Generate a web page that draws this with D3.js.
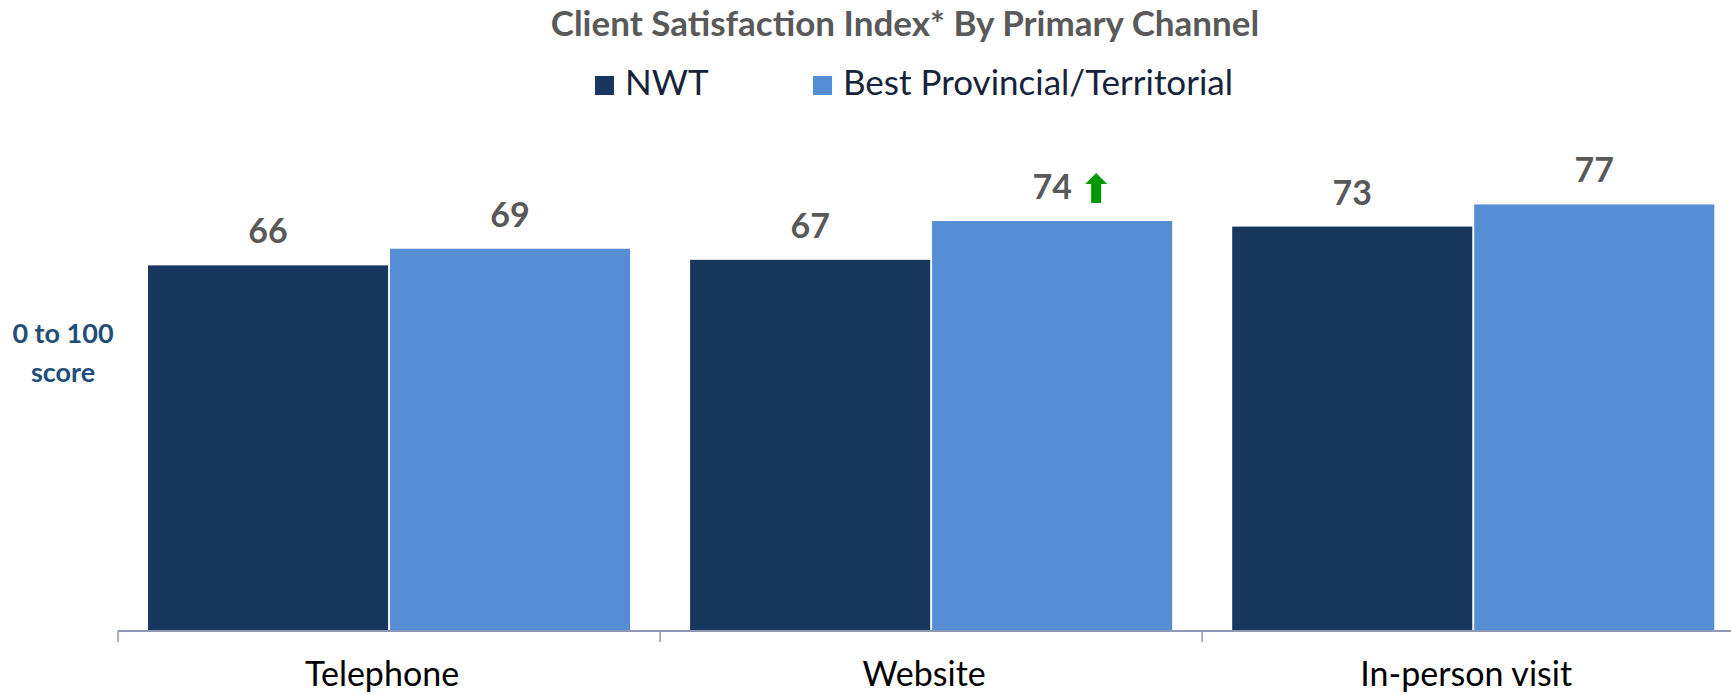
<!DOCTYPE html>
<html>
<head>
<meta charset="utf-8">
<script src="https://cdnjs.cloudflare.com/ajax/libs/d3/7.8.5/d3.min.js"></script>
<style>
  html, body { margin: 0; padding: 0; background: #fff; }
  svg { display: block; overflow: hidden; }
  text { font-family: Lato, "Open Sans", sans-serif; }
</style>
</head>
<body>
<div id="chart"></div>
<script>
(function() {
  var categories = ["Telephone", "Website", "In-person visit"];
  var seriesNames = ["NWT", "Best Provincial/Territorial"];
  var nwtValues = [66, 67, 73];
  var bestValues = [69, 74, 77];
  // arrow flags: significant increase marker next to a value
  var bestArrows = [false, true, false];
  var colors = ["#17375E", "#558ED5"];

  var width = 1731, height = 695;
  var options = {
    margin: { top: 77, left: 118, bottom: 64 },
    band: 542.1,
    groupPad: 30
  };
  var axisY = height - options.margin.bottom;

  var svg = d3.select("#chart").append("svg")
    .attr("width", width)
    .attr("height", height);

  var x = d3.scaleBand()
    .domain(categories)
    .range([options.margin.left, options.margin.left + options.band * categories.length]);

  var xs = d3.scaleBand()
    .domain(seriesNames)
    .range([options.groupPad, options.band - options.groupPad])
    .paddingInner(0.008);

  var y = d3.scaleLinear()
    .domain([0, 100])
    .range([axisY, options.margin.top]);

  var rows = categories.map(function(c, i) {
    return [
      { cat: c, name: seriesNames[0], value: nwtValues[i], arrow: false },
      { cat: c, name: seriesNames[1], value: bestValues[i], arrow: bestArrows[i] }
    ];
  });

  // title
  svg.append("text")
    .attr("x", 905).attr("y", 36)
    .attr("text-anchor", "middle")
    .style("font-size", "35px").style("font-weight", 700)
    .style("fill", "#595959")
    .text("Client Satisfaction Index* By Primary Channel");

  // legend
  var legendX = [595, 813];
  var legend = svg.selectAll("g.legend").data(seriesNames).enter().append("g")
    .attr("class", "legend")
    .attr("transform", function(d, i) { return "translate(" + legendX[i] + ",76)"; });
  legend.append("rect")
    .attr("width", 19).attr("height", 19)
    .attr("fill", function(d, i) { return colors[i]; });
  legend.append("text")
    .attr("x", 30).attr("y", 19)
    .style("font-size", "35px").style("fill", "#16233a")
    .text(function(d) { return d; });

  // y label
  var ylab = svg.append("text")
    .attr("text-anchor", "middle")
    .style("font-size", "27px").style("font-weight", 700)
    .style("fill", "#1F4E79");
  ylab.append("tspan").attr("x", 63).attr("y", 343).text("0 to 100");
  ylab.append("tspan").attr("x", 63).attr("y", 382).text("score");

  // bars
  var groups = svg.selectAll("g.cat").data(rows).enter().append("g")
    .attr("class", "cat")
    .attr("transform", function(d) { return "translate(" + x(d[0].cat) + ",0)"; });

  groups.selectAll("rect").data(function(d) { return d; }).enter().append("rect")
    .attr("x", function(d) { return xs(d.name); })
    .attr("y", function(d) { return y(d.value); })
    .attr("width", xs.bandwidth())
    .attr("height", function(d) { return y(0) - y(d.value); })
    .attr("fill", function(d, i) { return colors[i]; });

  groups.selectAll("text.val").data(function(d) { return d; }).enter().append("text")
    .attr("class", "val")
    .attr("x", function(d) { return xs(d.name) + xs.bandwidth() / 2; })
    .attr("y", function(d) { return y(d.value) - 22; })
    .attr("text-anchor", "middle")
    .style("font-size", "34px").style("font-weight", 700)
    .style("fill", "#595959")
    .text(function(d) { return d.value; });

  // green up arrow
  groups.selectAll("path.arrow").data(function(d) { return d.filter(function(e) { return e.arrow; }); })
    .enter().append("path")
    .attr("class", "arrow")
    .attr("transform", function(d) {
      return "translate(" + (xs(d.name) + xs.bandwidth() / 2 + 44) + "," + (y(d.value) - 48) + ")";
    })
    .attr("d", "M0,0 L11,11 L5,11 L5,30 L-5,30 L-5,11 L-11,11 Z")
    .attr("fill", "#009900");

  // x axis
  var xAxis = d3.axisBottom(x).tickSize(0);
  var axisG = svg.append("g")
    .attr("transform", "translate(0," + axisY + ")")
    .call(xAxis);
  axisG.select(".domain").remove();
  axisG.append("line")
    .attr("x1", options.margin.left).attr("x2", width)
    .attr("stroke", "#8E9AB5").attr("stroke-width", 2);
  axisG.selectAll(".sep").data(categories).enter().append("line")
    .attr("class", "sep")
    .attr("x1", function(d) { return x(d); }).attr("x2", function(d) { return x(d); })
    .attr("y1", 0).attr("y2", 11)
    .attr("stroke", "#8E9AB5").attr("stroke-width", 1.5);
  axisG.selectAll(".tick text")
    .attr("y", 55).attr("dy", 0).attr("dx", -7)
    .style("font-family", "Lato, sans-serif")
    .style("font-size", "34px").style("fill", "#000");
})();
</script>
</body>
</html>
